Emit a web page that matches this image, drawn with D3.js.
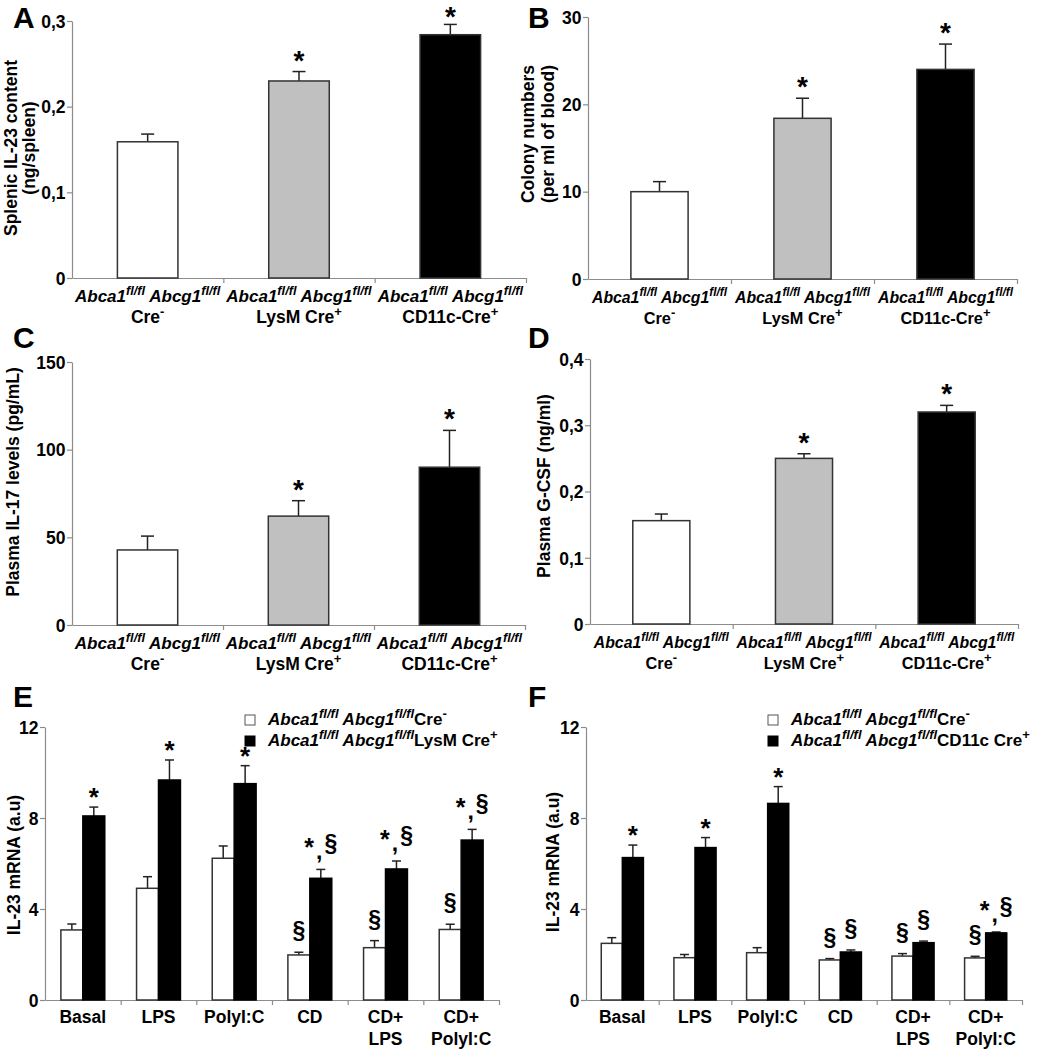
<!DOCTYPE html>
<html><head><meta charset="utf-8">
<script src="https://cdn.jsdelivr.net/npm/d3@7"></script>
<style>
body{margin:0;background:#fff}
svg{display:block}
text{font-family:"Liberation Sans",Arial,sans-serif;font-weight:bold;fill:#000}
</style>
</head><body>
<svg id="c" width="1050" height="1050"></svg>
<script>
// ---------- DATA ----------
const genotypeCategories = ["Cre", "LysM Cre", "CD11c-Cre"];
const genotypeSup = ["-", "+", "+"];
const genotypeFills = ["#ffffff", "#c0c0c0", "#000000"];

const valuesA = [0.159, 0.230, 0.284];
const errorsA = [0.009, 0.011, 0.012];
const signifA = ["", "*", "*"];
const ticksA = [0, 0.1, 0.2, 0.3];

const valuesB = [10.0, 18.4, 24.0];
const errorsB = [1.15, 2.3, 2.9];
const signifB = ["", "*", "*"];
const ticksB = [0, 10, 20, 30];

const valuesC = [42.8, 62.1, 90.0];
const errorsC = [7.9, 8.8, 21.0];
const signifC = ["", "*", "*"];
const ticksC = [0, 50, 100, 150];

const valuesD = [0.156, 0.250, 0.320];
const errorsD = [0.010, 0.007, 0.010];
const signifD = ["", "*", "*"];
const ticksD = [0, 0.1, 0.2, 0.3, 0.4];

const conditions = [["Basal"], ["LPS"], ["PolyI:C"], ["CD"], ["CD+", "LPS"], ["CD+", "PolyI:C"]];
const ticksEF = [0, 4, 8, 12];

const creNegE = [3.08, 4.91, 6.23, 1.98, 2.30, 3.10];
const creNegErrE = [0.26, 0.51, 0.54, 0.12, 0.31, 0.23];
const lysmE = [8.09, 9.67, 9.51, 5.35, 5.76, 7.03];
const lysmErrE = [0.39, 0.88, 0.79, 0.39, 0.35, 0.47];
const creNegSigE = ["", "", "", "§", "§", "§"];
const lysmSigE = ["*", "*", "*", "*,§", "*,§", "*,§"];

const creNegF = [2.49, 1.86, 2.08, 1.76, 1.93, 1.85];
const creNegErrF = [0.25, 0.14, 0.22, 0.06, 0.11, 0.07];
const cd11cF = [6.26, 6.70, 8.64, 2.11, 2.52, 2.95];
const cd11cErrF = [0.55, 0.44, 0.74, 0.09, 0.07, 0.04];
const creNegSigF = ["", "", "", "§", "§", "§"];
const cd11cSigF = ["*", "*", "*", "§", "§", "*,§"];

const legendE = [["Cre", "-"], ["LysM Cre", "+"]];
const legendF = [["Cre", "-"], ["CD11c Cre", "+"]];

// ---------- HELPERS ----------
const svg = d3.select("#c");
const AXIS = "#8c8c8c";
const commaFmt = d => d === 0 ? "0" : d3.format(".1f")(d).replace(".", ",");
const intFmt = d => String(d);

function rich(textSel, parts, supSize) {
  let shift = 0;
  parts.forEach(p => {
    const ts = textSel.append("tspan").text(p.t);
    const target = p.sup ? -7 : 0;
    if (target !== shift) { ts.attr("dy", target - shift); shift = target; }
    if (p.sup) ts.attr("font-size", supSize || 13);
    if (p.it) ts.attr("font-style", "italic");
  });
}
const genoParts = [
  {t: "Abca1", it: true}, {t: "fl/fl", it: true, sup: true},
  {t: " Abcg1", it: true}, {t: "fl/fl", it: true, sup: true}
];

function letter(ch, x, y) {
  svg.append("text").attr("x", x).attr("y", y).attr("font-size", 30).text(ch);
}
function yTitle(lines, xs, cy) {
  lines.forEach((l, i) => {
    svg.append("text").attr("transform", `translate(${xs[i]},${cy}) rotate(-90)`)
      .attr("text-anchor", "middle").attr("font-size", 17.5).text(l);
  });
}
function styleAxis(g) {
  g.selectAll("path,line").attr("stroke", AXIS).attr("stroke-width", 1.2);
  g.selectAll("text").attr("font-size", 17.5).attr("fill", "#000")
    .attr("font-family", '"Liberation Sans",Arial,sans-serif').attr("font-weight", "bold");
}
function yAxis(y, left, ticks, fmt) {
  const g = svg.append("g").attr("transform", `translate(${left},0)`)
    .call(d3.axisLeft(y).tickValues(ticks).tickFormat(fmt).tickSize(5).tickPadding(1.5).tickSizeOuter(0));
  styleAxis(g);
  g.selectAll(".tick text").attr("dy", "0.36em");
}
function xAxisBoundaries(left, right, bottom, n) {
  const xb = d3.scaleLinear().domain([0, n]).range([left, right]);
  const g = svg.append("g").attr("transform", `translate(0,${bottom})`)
    .call(d3.axisBottom(xb).tickValues(d3.range(1, n + 1)).tickFormat("").tickSize(5).tickSizeOuter(0));
  styleAxis(g);
}
function annot(x, yTop, s) {
  if (!s) return;
  const t = svg.append("text").attr("x", x).attr("text-anchor", "middle").attr("font-size", 23);
  if (s === "*") {
    t.attr("y", yTop - 1).attr("font-size", 26).text("*");
  } else if (s === "§") {
    t.attr("y", yTop - 14).text("§");
  } else {
    t.attr("y", yTop - 18);
    t.append("tspan").attr("dy", 5).attr("font-size", 25).text("*");
    t.append("tspan").attr("dy", 3).attr("dx", 2).text(",");
    t.append("tspan").attr("dy", -8).attr("dx", 2).text("§");
  }
}

// ---------- SIMPLE PANELS A-D ----------
function simplePanel(p) {
  const y = d3.scaleLinear().domain([0, d3.max(p.ticks)]).range([p.bottom, p.top]);
  const x = d3.scaleBand().domain(genotypeCategories).range([p.left, p.right]).padding(0);
  xAxisBoundaries(p.left, p.right, p.bottom, genotypeCategories.length);
  yAxis(y, p.left, p.ticks, p.fmt);
  const bw = x.bandwidth() * 0.4;
  genotypeCategories.forEach((c, i) => {
    const cx = x(c) + x.bandwidth() / 2;
    const v = p.values[i], e = p.errors[i];
    svg.append("line").attr("x1", cx).attr("x2", cx).attr("y1", y(v)).attr("y2", y(v + e))
      .attr("stroke", "#222").attr("stroke-width", 1.5);
    svg.append("line").attr("x1", cx - 6.5).attr("x2", cx + 6.5).attr("y1", y(v + e)).attr("y2", y(v + e))
      .attr("stroke", "#222").attr("stroke-width", 1.5);
    svg.append("rect").attr("x", cx - bw / 2).attr("y", y(v)).attr("width", bw).attr("height", y(0) - y(v))
      .attr("fill", genotypeFills[i]).attr("stroke", "#333").attr("stroke-width", 1.5);
    if (p.signif[i]) svg.append("text").attr("x", cx).attr("y", Math.max(y(v + e) - 2, 25.5))
      .attr("text-anchor", "middle").attr("font-size", 28).text(p.signif[i]);
    const t1 = svg.append("text").attr("x", cx).attr("y", p.bottom + 24).attr("text-anchor", "middle").attr("font-size", p.lab);
    rich(t1, genoParts, p.lab * 0.75);
    const t2 = svg.append("text").attr("x", cx).attr("y", p.bottom + 45).attr("text-anchor", "middle").attr("font-size", p.lab + 0.5);
    rich(t2, [{t: c}, {t: genotypeSup[i], sup: true}], 13);
  });
  yTitle(p.title, p.titleX, p.titleY);
  letter(p.letter, p.lx, p.ly);
}

simplePanel({left: 72, right: 526, bottom: 278, top: 21, ticks: ticksA, fmt: commaFmt, lab: 17,
  values: valuesA, errors: errorsA, signif: signifA,
  title: ["Splenic IL-23 content", "(ng/spleen)"], titleX: [16.5, 34.5], titleY: 148, letter: "A", lx: 13, ly: 27.5});
simplePanel({left: 588, right: 1017, bottom: 279, top: 17, ticks: ticksB, fmt: intFmt, lab: 15.8,
  values: valuesB, errors: errorsB, signif: signifB,
  title: ["Colony numbers", "(per ml of blood)"], titleX: [534, 554], titleY: 134, letter: "B", lx: 528, ly: 27.5});
simplePanel({left: 72, right: 525, bottom: 625, top: 362, ticks: ticksC, fmt: intFmt, lab: 17,
  values: valuesC, errors: errorsC, signif: signifC,
  title: ["Plasma IL-17 levels (pg/mL)"], titleX: [19], titleY: 482, letter: "C", lx: 13, ly: 348});
simplePanel({left: 590, right: 1018, bottom: 624, top: 359, ticks: ticksD, fmt: commaFmt, lab: 15.8,
  values: valuesD, errors: errorsD, signif: signifD,
  title: ["Plasma G-CSF (ng/ml)"], titleX: [550], titleY: 486, letter: "D", lx: 528, ly: 348});

// ---------- GROUPED PANELS E-F ----------
function groupedPanel(p) {
  const y = d3.scaleLinear().domain([0, 12]).range([p.bottom, p.top]);
  const idx = d3.range(conditions.length);
  const x0 = d3.scaleBand().domain(idx).range([p.left, p.right]).padding(0);
  const x1 = d3.scaleBand().domain([0, 1]).range([x0.bandwidth() * 0.21, x0.bandwidth() * 0.79]).padding(0);
  xAxisBoundaries(p.left, p.right, p.bottom, conditions.length);
  yAxis(y, p.left, ticksEF, intFmt);
  const series = [
    {vals: p.white, errs: p.whiteErr, sig: p.whiteSig, fill: "#fff", stroke: "#333"},
    {vals: p.black, errs: p.blackErr, sig: p.blackSig, fill: "#000", stroke: "#000"}
  ];
  idx.forEach(i => {
    series.forEach((s, k) => {
      const bx = x0(i) + x1(k), bw = x1.bandwidth(), cx = bx + bw / 2;
      const v = s.vals[i], e = s.errs[i];
      svg.append("line").attr("x1", cx).attr("x2", cx).attr("y1", y(v)).attr("y2", y(v + e))
        .attr("stroke", "#222").attr("stroke-width", 1.5);
      svg.append("line").attr("x1", cx - 4.5).attr("x2", cx + 4.5).attr("y1", y(v + e)).attr("y2", y(v + e))
        .attr("stroke", "#222").attr("stroke-width", 1.5);
      svg.append("rect").attr("x", bx).attr("y", y(v)).attr("width", bw).attr("height", y(0) - y(v))
        .attr("fill", s.fill).attr("stroke", s.stroke).attr("stroke-width", 1.5);
      annot(cx, y(v + e), s.sig[i]);
    });
    const cx = x0(i) + x0.bandwidth() / 2;
    conditions[i].forEach((line, j) => {
      svg.append("text").attr("x", cx).attr("y", p.bottom + 23 + j * 22).attr("text-anchor", "middle")
        .attr("font-size", 17.5).text(line);
    });
  });
  // legend
  p.legend.forEach((row, r) => {
    const ly = p.legY + r * 21;
    svg.append("rect").attr("x", p.legX).attr("y", ly - 10).attr("width", 10).attr("height", 10)
      .attr("fill", r === 0 ? "#fff" : "#000").attr("stroke", r === 0 ? "#555" : "#000").attr("stroke-width", 1);
    const t = svg.append("text").attr("x", p.legX + 23).attr("y", ly).attr("font-size", 17);
    rich(t, genoParts.concat([{t: row[0]}, {t: row[1], sup: true}]));
  });
  yTitle(["IL-23 mRNA (a.u)"], [p.titleX], p.titleY);
  letter(p.letter, p.lx, p.ly);
}

groupedPanel({left: 45, right: 499, bottom: 1000, top: 727,
  white: creNegE, whiteErr: creNegErrE, whiteSig: creNegSigE,
  black: lysmE, blackErr: lysmErrE, blackSig: lysmSigE,
  legend: legendE, legX: 245, legY: 725, titleX: 20, titleY: 865, letter: "E", lx: 13, ly: 707});
groupedPanel({left: 586, right: 1022, bottom: 1000, top: 727,
  white: creNegF, whiteErr: creNegErrF, whiteSig: creNegSigF,
  black: cd11cF, blackErr: cd11cErrF, blackSig: cd11cSigF,
  legend: legendF, legX: 768, legY: 725, titleX: 559, titleY: 862, letter: "F", lx: 528, ly: 707});
</script>
</body></html>
